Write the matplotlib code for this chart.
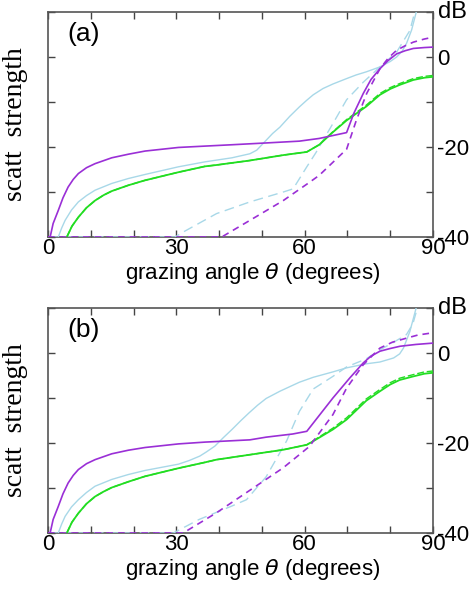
import matplotlib
matplotlib.use("Agg")
import matplotlib.pyplot as plt

# ---------------- data: panel (a) ----------------
a_purple_x = [0, 0.5, 1.2, 2.4, 3.5, 4.7, 5.9, 7.1, 9, 11, 14.9, 18.8, 22.7, 30.5, 36.7, 43, 51, 58.75, 63.4, 69.8, 71.5, 73.7, 75.5, 77.6, 79.5, 81.5, 83.5, 85.4, 88, 90]
a_purple_y = [-40, -40, -37.0, -34.1, -31.3, -28.9, -27.2, -25.9, -24.6, -23.7, -22.4, -21.6, -20.9, -20.1, -19.8, -19.5, -19.1, -18.7, -18.1, -16.8, -12.5, -8.1, -5.0, -2.6, -0.8, 0.7, 1.4, 1.9, 2.1, 2.2]

a_purple_d_x = [0, 40.6, 47.2, 55, 61.2, 63.4, 69.8, 72.1, 74.5, 77.6, 79.5, 81.5, 83.5, 85.4, 88, 90]
a_purple_d_y = [-40, -40, -36.3, -31.9, -27.8, -26.3, -20.5, -14, -8.1, -2.6, -0.3, 1.5, 2.5, 3.3, 4.0, 4.4]

a_green_x = [4.4, 5.6, 7.1, 9, 11, 13, 14.9, 18.8, 22.7, 30.5, 36.7, 39.4, 47.2, 55, 60.5, 63.4, 66.6, 69.8, 74.4, 77.6, 80, 82.2, 85.4, 88, 90]
a_green_y = [-40, -37.6, -35.6, -33.5, -31.9, -30.7, -29.8, -28.5, -27.4, -25.6, -24.3, -24.0, -23.0, -21.8, -21.1, -19.5, -16.7, -14.1, -11.0, -8.4, -7.1, -6.2, -5.1, -4.6, -4.4]
a_green_d_y = [-40, -37.6, -35.6, -33.5, -31.9, -30.7, -29.8, -28.5, -27.4, -25.6, -24.3, -24.0, -23.0, -21.8, -21.1, -19.5, -16.6, -13.9, -10.7, -8.1, -6.8, -5.9, -4.8, -4.3, -4.1]

a_blue_x = [2.4, 3.2, 4, 5.5, 7.1, 9, 11, 14.9, 18.8, 22.7, 30.5, 36.7, 43, 47.2, 48.8, 51, 52.5, 54.2, 56.5, 58.75, 60.5, 62, 64.3, 66.6, 69.8, 72, 74.4, 77.6, 80, 81.5, 82.8, 83.8, 85, 86.2]
a_blue_y = [-40, -38.0, -36.3, -34.0, -32.2, -30.8, -29.6, -28.1, -27.0, -26.1, -24.4, -23.3, -22.4, -21.5, -20.7, -18.5, -17.0, -15.6, -13.2, -11.1, -9.6, -8.4, -7.0, -6.0, -4.8, -4.0, -3.3, -2.2, -1.0, 0.0, 1.3, 3.0, 6.0, 10.4]

a_blue_d_x = [0, 29.7, 31.6, 39.4, 47.2, 55, 57.3, 60.5, 62.6, 64.3, 66.6, 69.8, 73.7, 77.6, 81.5, 84.6, 85.8]
a_blue_d_y = [-40, -40, -38.9, -34.8, -32.2, -30.0, -29.3, -24.4, -21.3, -18.5, -14.8, -9.5, -5.6, -2.2, 1.1, 5.9, 10.2]

# ---------------- data: panel (b) ----------------
b_purple_x = [0, 0.5, 1.2, 2.4, 3.5, 4.7, 5.9, 7.1, 9, 11, 14.9, 18.8, 22.7, 30.5, 36.7, 43, 47.2, 51, 57.2, 60.5, 66.6, 70.5, 73.7, 75.5, 77.6, 80, 82.3, 86, 90]
b_purple_y = [-40, -40, -37.0, -34.1, -31.3, -28.9, -27.2, -25.9, -24.6, -23.7, -22.4, -21.6, -21.0, -20.2, -19.8, -19.5, -19.3, -18.7, -18.0, -17.4, -10.0, -5.6, -2.2, -0.7, 0.4, 1.0, 1.5, 1.9, 2.2]

b_purple_d_x = [0, 31.6, 39.4, 47.2, 55, 61.2, 62, 66.6, 69.8, 73.7, 77.6, 80.5, 83.8, 86.5, 89.3]
b_purple_d_y = [-40, -40, -35.5, -30.5, -25.5, -20.7, -19.6, -13.7, -7.8, -2.6, 1.1, 2.4, 3.3, 4.0, 4.4]

b_green_x = [4.4, 5.6, 7.1, 9, 11, 13, 14.9, 18.8, 22.7, 30.5, 36.7, 39.4, 47.2, 55, 60.5, 62, 66.6, 69.8, 74.4, 77.6, 80, 82.2, 85.4, 88, 90]
b_green_y = [-40, -37.6, -35.6, -33.5, -31.9, -30.8, -29.9, -28.6, -27.4, -25.6, -24.3, -23.7, -22.6, -21.5, -20.4, -19.6, -17.0, -14.8, -10.6, -8.5, -7.0, -6.0, -5.2, -4.6, -4.4]
b_green_d_y = [-40, -37.6, -35.6, -33.5, -31.9, -30.8, -29.9, -28.6, -27.4, -25.6, -24.3, -23.7, -22.6, -21.5, -20.4, -19.5, -16.7, -14.4, -10.2, -8.1, -6.6, -5.6, -4.8, -4.2, -4.0]

b_blue_x = [2.4, 3.2, 4, 5.5, 7.1, 9, 11, 14.9, 18.8, 22.7, 30.5, 33, 35.5, 37, 39, 41, 43, 45, 47, 49, 51, 54.2, 58.75, 62, 66.6, 69.8, 74.4, 77.6, 80.8, 82.2, 83.1, 84.6, 86.2]
b_blue_y = [-40, -38.0, -36.3, -34.2, -32.6, -31.0, -29.6, -28.1, -27.0, -26.1, -24.7, -23.9, -22.9, -22.0, -20.7, -18.8, -17.0, -15.1, -13.3, -11.6, -10.1, -8.5, -6.5, -5.4, -4.2, -3.3, -2.4, -2.0, -1.1, -0.2, 1.1, 4.8, 10.5]

b_blue_d_x = [0, 29.3, 35.3, 43, 46.4, 51, 55.8, 58.75, 62, 66.6, 69.8, 74.4, 77.6, 81, 83.8, 85.3, 86.5]
b_blue_d_y = [-40, -40, -37.0, -34.0, -32.6, -27.5, -19.5, -13.0, -8.0, -5.2, -3.1, -1.3, 0.7, 2.5, 4.1, 6.5, 10.5]

x_ticks = [0, 10, 20, 30, 40, 50, 60, 70, 80, 90]
x_labels = ["0", "", "", "30", "", "", "60", "", "", "90"]
y_ticks = [-40, -30, -20, -10, 0, 10]
y_labels = ["-40", "", "-20", "", "0", ""]

PURPLE = "#9a2fd6"
GREEN = "#22dd22"
BLUE = "#a8d8e8"

SANS = ["Liberation Sans", "DejaVu Sans"]
SERIF = ["Liberation Serif", "DejaVu Serif"]

fig = plt.figure(figsize=(4.71, 5.90), dpi=100)

panels = [
    (fig.add_axes([48/471, 1-237/590, 385/471, 225/590]), "(a)",
     (a_purple_x, a_purple_y), (a_purple_d_x, a_purple_d_y),
     (a_green_x, a_green_y, a_green_d_y),
     (a_blue_x, a_blue_y), (a_blue_d_x, a_blue_d_y)),
    (fig.add_axes([48/471, 1-533/590, 385/471, 225/590]), "(b)",
     (b_purple_x, b_purple_y), (b_purple_d_x, b_purple_d_y),
     (b_green_x, b_green_y, b_green_d_y),
     (b_blue_x, b_blue_y), (b_blue_d_x, b_blue_d_y)),
]

for ax, tag, ps, pd, gr, bs, bd in panels:
    ax.plot(bd[0], bd[1], color=BLUE, lw=1.0, dashes=(7, 4), zorder=3)
    ax.plot(bs[0], bs[1], color=BLUE, lw=1.0, zorder=3)
    ax.plot(gr[0], gr[2], color=GREEN, lw=1.0, dashes=(5, 2), zorder=3)
    ax.plot(gr[0], gr[1], color=GREEN, lw=1.3, zorder=3)
    ax.plot(pd[0], pd[1], color=PURPLE, lw=1.2, dashes=(4, 3), zorder=3)
    ax.plot(ps[0], ps[1], color=PURPLE, lw=1.2, zorder=3)

    ax.set_xlim(0, 90)
    ax.set_ylim(-40, 10)
    ax.set_xticks(x_ticks)
    ax.set_xticklabels(x_labels, fontfamily=SANS, fontsize=16)
    ax.set_yticks(y_ticks)
    ax.set_yticklabels(y_labels, fontfamily=SANS, fontsize=16)
    ax.tick_params(axis="both", direction="in", length=5, width=1.0, color="#444444",
                   top=True, right=True, left=True, bottom=True,
                   labelleft=False, labelright=True, pad=1)
    ax.tick_params(axis="y", pad=3)
    for s in ax.spines.values():
        s.set_color("#555555")
        s.set_linewidth(1.2)
    ax.set_xlabel("grazing angle $\\theta$ (degrees)", fontfamily=SANS, fontsize=16)
    ax.xaxis.set_label_coords(0.531, -0.105)
    ax.set_ylabel("scatt  strength", fontfamily=SERIF, fontsize=20)
    ax.yaxis.set_label_coords(-0.052, 0.5)
    ax.text(0.05, 0.955, tag, transform=ax.transAxes, ha="left", va="top",
            fontfamily=SANS, fontsize=19)
    ax.text(1.012, 1.0, "dB", transform=ax.transAxes, ha="left", va="center",
            fontfamily=SANS, fontsize=17)

fig.savefig("out.png", dpi=100)
